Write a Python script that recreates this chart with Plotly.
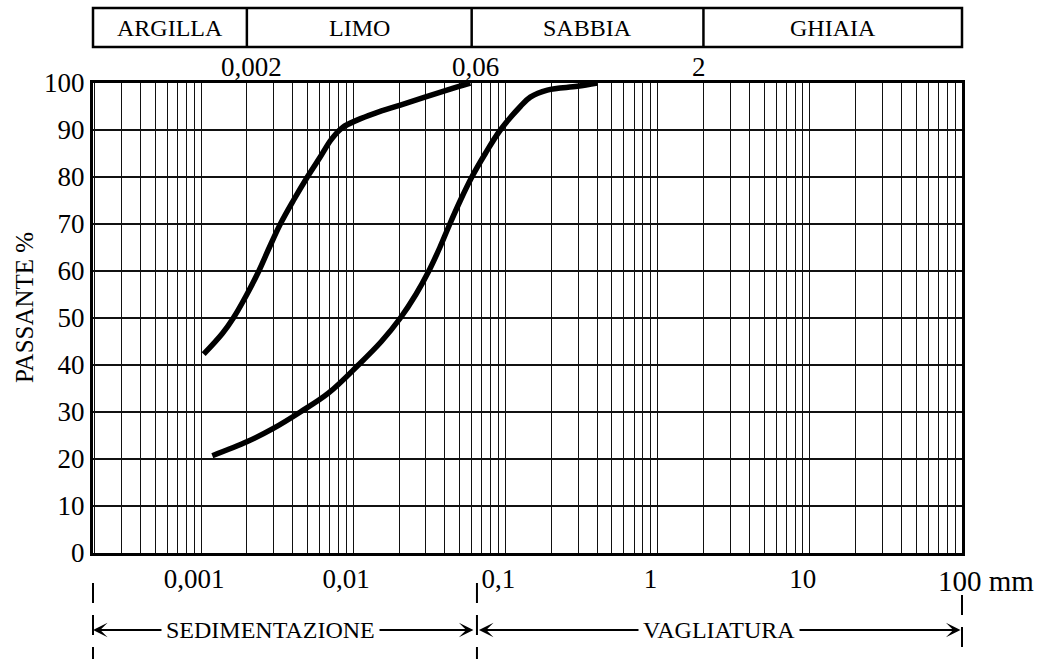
import math
import plotly.graph_objects as go

# Grain-size distribution curves (diameter in mm, percent passing)
fine_d = [0.00104, 0.00138, 0.00163, 0.001999, 0.002397, 0.00281, 0.003318, 0.004041,
          0.004994, 0.00608, 0.007181, 0.008483, 0.0106, 0.013971, 0.0204, 0.0413, 0.0588]
fine_p = [42.3, 46.7, 50.0, 55.0, 60.0, 65.0, 70.0, 75.0,
          80.0, 84.3, 88.0, 90.5, 92.1, 93.6, 95.3, 98.5, 100.0]

coarse_d = [0.001186, 0.002015, 0.002985, 0.004492, 0.006862, 0.010802, 0.015299, 0.020396,
            0.025789, 0.03138, 0.037068, 0.043113, 0.050536, 0.060149, 0.073792, 0.09258,
            0.1253, 0.1457, 0.1885, 0.2968, 0.4016]
coarse_p = [20.7, 23.7, 26.5, 30.0, 34.0, 40.0, 45.0, 50.0,
            55.0, 60.0, 65.0, 70.0, 75.0, 80.0, 85.0, 90.0,
            95.0, 97.0, 98.5, 99.3, 100.0]

# Axis labelling
decade_vals = [0.001, 0.01, 0.1, 1, 10]
decade_text = ["0,001", "0,01", "0,1", "1", "10"]
y_ticks = [0, 10, 20, 30, 40, 50, 60, 70, 80, 90, 100]

# Soil classes along the top band and their boundaries (mm)
class_names = ["ARGILLA", "LIMO", "SABBIA", "GHIAIA"]
class_bounds = [0.002, 0.06, 2]
class_bound_text = ["0,002", "0,06", "2"]

# Test method split: sedimentation below, sieving above this size (mm)
method_split = 0.065
method_names = ["SEDIMENTAZIONE", "VAGLIATURA"]

X_LO, X_HI = -3.71, 2.0
W, H = 1042, 659
ML, MR, MT, MB = 93, 80, 83, 106
PLOT_W = W - ML - MR
PLOT_H = H - MT - MB
FONT = "Liberation Serif, Times New Roman, serif"


def xfrac(v):
    return (math.log10(v) - X_LO) / (X_HI - X_LO)


def ypix(py):
    # pixel row -> paper y
    return (H - MB - py) / PLOT_H


# vertical grid: every 1..9 x 10^k inside the range
grid_vals, grid_text = [], []
for k in range(-4, 3):
    for m in range(1, 10):
        v = m * 10 ** k
        lv = math.log10(v)
        if X_LO - 1e-9 <= lv <= X_HI + 1e-9:
            grid_vals.append(v)
            label = ""
            for dv, dt in zip(decade_vals, decade_text):
                if abs(lv - math.log10(dv)) < 1e-9:
                    label = dt
            grid_text.append(label)

fig = go.Figure()
for xs, ys in [(fine_d, fine_p), (coarse_d, coarse_p)]:
    fig.add_trace(go.Scatter(
        x=xs, y=ys, mode="lines",
        line=dict(color="black", width=5.5, shape="spline", smoothing=1.0),
        hoverinfo="skip",
    ))

fig.update_xaxes(
    type="log", range=[X_LO, X_HI],
    tickmode="array", tickvals=grid_vals, ticktext=grid_text,
    showgrid=True, gridcolor="#111111", gridwidth=1.3,
    showline=True, mirror=True, linecolor="black", linewidth=3,
    ticks="", zeroline=False,
    tickfont=dict(family=FONT, size=27, color="black"),
    ticklabelstandoff=0, ticklabelshift=-7,
)
fig.update_yaxes(
    range=[0, 100], tickmode="array", tickvals=y_ticks,
    ticktext=[str(v) for v in y_ticks],
    showgrid=True, gridcolor="#111111", gridwidth=2,
    showline=True, mirror=True, linecolor="black", linewidth=3,
    ticks="", zeroline=False,
    tickfont=dict(family=FONT, size=27, color="black"),
    ticklabelstandoff=0,
)

shapes = []
annotations = []

# top classification band
band_lo, band_hi = ypix(47), ypix(8)
shapes.append(dict(type="rect", xref="paper", yref="paper", x0=0, x1=1,
                   y0=band_lo, y1=band_hi, line=dict(color="black", width=2.5)))
for b in class_bounds:
    shapes.append(dict(type="line", xref="x", yref="paper", x0=b, x1=b,
                       y0=band_lo, y1=band_hi, line=dict(color="black", width=2.5)))
edges = [0.0] + [xfrac(b) for b in class_bounds] + [1.0]
for i, name in enumerate(class_names):
    annotations.append(dict(text=name, xref="paper", yref="paper",
                            x=(edges[i] + edges[i + 1]) / 2, y=(band_lo + band_hi) / 2,
                            showarrow=False, xanchor="center", yanchor="middle",
                            font=dict(family=FONT, size=24, color="black")))
for b, t, dx in zip(class_bounds, class_bound_text, [5, 4, -4]):
    annotations.append(dict(text=t, xref="x", yref="paper", x=math.log10(b), y=1,
                            yshift=16, xshift=dx, showarrow=False,
                            xanchor="center", yanchor="middle",
                            font=dict(family=FONT, size=27, color="black")))

# "100 mm" at the right end of the axis
annotations.append(dict(text="100 mm", xref="paper", yref="paper", x=1, y=ypix(581),
                        xshift=-26, showarrow=False, xanchor="left", yanchor="middle",
                        font=dict(family=FONT, size=29, color="black")))

# y axis title
annotations.append(dict(text="PASSANTE %", xref="paper", yref="paper", x=0, y=ypix(308),
                        xshift=-69, textangle=-90, showarrow=False,
                        xanchor="center", yanchor="middle",
                        font=dict(family=FONT, size=25, color="black")))

# dashed separators below the axis
split_f = xfrac(method_split)
for xf, top in [(0.0, 583), (split_f, 583), (1.0, 595)]:
    shapes.append(dict(type="line", xref="paper", yref="paper", x0=xf, x1=xf,
                       y0=ypix(top), y1=ypix(659),
                       line=dict(color="black", width=2, dash="20px,12px")))

# double-headed range arrows with their labels
arrow_y = ypix(630)
ranges = [(0.0, split_f), (split_f, 1.0)]
for (f0, f1), name, shift in zip(ranges, method_names, [-14, 0]):
    annotations.append(dict(
        text="", xref="paper", yref="paper", x=f0, y=arrow_y,
        ax=(f1 - f0) * PLOT_W, ay=0, axref="pixel", ayref="pixel",
        showarrow=True, arrowside="end+start", arrowhead=3, startarrowhead=3,
        arrowsize=1.35, startarrowsize=1.35, arrowwidth=1.8, arrowcolor="black",
        standoff=2 if f0 > 0 else 0, startstandoff=2 if f1 < 1 else 0,
    ))
    annotations.append(dict(
        text=name, xref="paper", yref="paper", x=(f0 + f1) / 2, y=arrow_y,
        xshift=shift, showarrow=False, xanchor="center", yanchor="middle",
        bgcolor="white", borderpad=4,
        font=dict(family=FONT, size=24, color="black"),
    ))

fig.update_layout(
    width=W, height=H,
    margin=dict(l=ML, r=MR, t=MT, b=MB),
    paper_bgcolor="white", plot_bgcolor="white",
    showlegend=False,
    shapes=shapes, annotations=annotations,
    font=dict(family=FONT, color="black"),
)

fig.write_html("out.html")
